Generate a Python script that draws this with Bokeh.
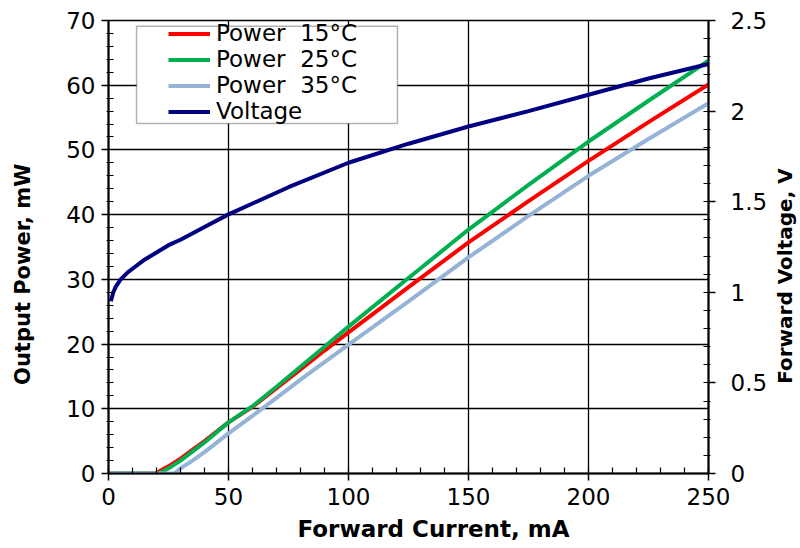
import math
from bokeh.plotting import figure
from bokeh.layouts import row, column
from bokeh.models import (Range1d, LinearAxis, FixedTicker, Legend, LegendItem,
                          BoxAnnotation, CustomJSTickFormatter)
from bokeh.core.properties import value
from bokeh.embed import file_html
from bokeh.resources import INLINE

# ---- data ----
current_15 = [0, 19.5, 25, 30, 40, 50, 60, 70, 80, 90, 100, 125, 150, 175, 200, 225, 250]
power_15 = [0, 0, 1.1, 2.3, 5.0, 7.9, 10.3, 13.2, 16.1, 19.0, 21.8, 28.8, 35.7, 42.1, 48.3, 54.3, 60.1]

current_25 = [0, 21, 25, 30, 40, 50, 60, 70, 80, 90, 100, 125, 150, 175, 200, 225, 250]
power_25 = [0, 0, 0.8, 2.0, 4.8, 7.9, 10.4, 13.4, 16.5, 19.6, 22.7, 30.2, 37.7, 44.6, 51.3, 57.6, 63.8]

current_35 = [0, 27.5, 30, 35, 40, 50, 60, 70, 80, 90, 100, 125, 150, 175, 200, 225, 250]
power_35 = [0, 0, 0.8, 2.0, 3.3, 6.2, 8.9, 11.7, 14.5, 17.2, 19.9, 26.6, 33.4, 39.8, 46.0, 51.7, 57.2]

current_v = [1, 2, 3, 5, 8, 10, 15, 20, 25, 30, 40, 50, 60, 75, 100, 125, 150, 175, 200, 225, 250]
voltage = [0.95, 1.0, 1.03, 1.07, 1.11, 1.13, 1.18, 1.22, 1.26, 1.29, 1.36, 1.43, 1.49, 1.58,
           1.715, 1.82, 1.915, 2.0, 2.09, 2.18, 2.26]

x_ticks = [0, 50, 100, 150, 200, 250]
y_ticks = [0, 10, 20, 30, 40, 50, 60, 70]
v_ticks = [0, 0.5, 1, 1.5, 2, 2.5]

labels = ["Power  15°C", "Power  25°C", "Power  35°C", "Voltage"]
colors = ["#FF0000", "#00B050", "#95B3D7", "#000080"]
x_title = "Forward Current, mA"
y_title = "Output Power, mW"
y2_title = "Forward Voltage, V"

FONT = "DejaVu Sans"

TOP_H = 514
BOT_H = 34
p = figure(width=730, height=TOP_H, output_backend="svg", toolbar_location=None,
           x_range=Range1d(0, 250), y_range=Range1d(0, 70),
           min_border_left=68, min_border_right=62, min_border_top=20, min_border_bottom=41)
p.extra_y_ranges = {"volt": Range1d(0, 2.5)}
p.background_fill_color = "white"
p.border_fill_color = "white"
p.outline_line_color = "black"
p.outline_line_width = 1.5

# grids
p.xgrid.ticker = FixedTicker(ticks=x_ticks)
p.ygrid.ticker = FixedTicker(ticks=y_ticks)
for g in (p.xgrid, p.ygrid):
    g.grid_line_color = "black"
    g.grid_line_width = 1.3

xa = p.xaxis[0]
xa.ticker = FixedTicker(ticks=x_ticks, minor_ticks=list(range(0, 251, 10)))
ya = p.yaxis[0]
ya.ticker = FixedTicker(ticks=y_ticks, minor_ticks=list(range(0, 71, 2)))

ra = LinearAxis(y_range_name="volt",
                ticker=FixedTicker(ticks=v_ticks, minor_ticks=[i / 10 for i in range(26)]),
                formatter=CustomJSTickFormatter(code="return String(tick);"))
p.add_layout(ra, "right")

for ax in (xa, ya, ra):
    ax.axis_line_color = "black"
    ax.axis_line_width = 2
    ax.major_tick_line_color = "black"
    ax.major_tick_line_width = 1.5
    ax.minor_tick_line_color = "black"
    ax.minor_tick_line_width = 1.2
    ax.major_tick_out = 7
    ax.major_tick_in = 0
    ax.major_label_text_font = FONT
    ax.major_label_text_font_size = "23px"
    ax.major_label_text_color = "black"

xa.minor_tick_in = 6
xa.minor_tick_out = 0
xa.major_label_standoff = 7
for ax in (ya, ra):
    ax.minor_tick_in = 5
    ax.minor_tick_out = 2
ya.major_label_standoff = 6
ra.major_label_standoff = 15

# lines
r15 = p.line(current_15, power_15, line_color=colors[0], line_width=4)
r25 = p.line(current_25, power_25, line_color=colors[1], line_width=4)
r35 = p.line(current_35, power_35, line_color=colors[2], line_width=4)
rv = p.line(current_v, voltage, line_color=colors[3], line_width=4, y_range_name="volt")

# legend box + legend
box = BoxAnnotation(left=11.7, right=120.4, top=69.1, bottom=54.1,
                    fill_color="white", fill_alpha=1.0,
                    line_color="black", line_width=1.5)
p.add_layout(box)

legend = Legend(items=[LegendItem(label=labels[0], renderers=[r15]),
                       LegendItem(label=labels[1], renderers=[r25]),
                       LegendItem(label=labels[2], renderers=[r35]),
                       LegendItem(label=labels[3], renderers=[rv])],
                location=(58, 347))
legend.border_line_alpha = 0
legend.background_fill_alpha = 0
legend.padding = 2
legend.spacing = -3
legend.margin = 0
legend.label_standoff = 6
legend.glyph_width = 42
legend.glyph_height = 23
legend.label_height = 23
legend.label_text_font = FONT
legend.label_text_font_size = "23px"
legend.label_text_color = "black"
p.add_layout(legend)


def label_fig(w, h):
    f = figure(width=w, height=h, x_range=Range1d(0, w), y_range=Range1d(0, h),
               x_axis_type=None, y_axis_type=None, output_backend="svg",
               toolbar_location=None, min_border=0)
    f.outline_line_color = None
    f.background_fill_color = "white"
    f.border_fill_color = "white"
    return f


# left axis title (reads bottom to top)
pL = label_fig(40, TOP_H)
pL.text(x=[22], y=[226], text=[y_title], angle=math.pi / 2,
        text_align="center", text_baseline="alphabetic",
        text_font=value(FONT), text_font_style="bold", text_font_size="21px",
        text_color="black")

# right axis title (reads bottom to top)
pR = label_fig(30, TOP_H)
pR.text(x=[14], y=[224], text=[y2_title], angle=math.pi / 2,
        text_align="center", text_baseline="alphabetic",
        text_font=value(FONT), text_font_style="bold", text_font_size="20px",
        text_color="black")

# bottom axis title
pB = label_fig(800, BOT_H)
pB.text(x=[433], y=[20], text=[x_title],
        text_align="center", text_baseline="alphabetic",
        text_font=value(FONT), text_font_style="bold", text_font_size="23px",
        text_color="black")

layout = column(row(pL, p, pR, spacing=0), pB, spacing=0)

open("out.html", "w").write(file_html(layout, INLINE))
